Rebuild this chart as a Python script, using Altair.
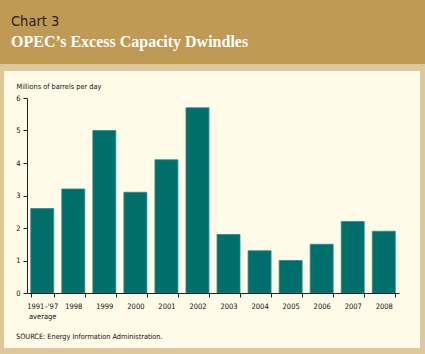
import altair as alt
import pandas as pd

categories = ["1991–'97|average", "1998", "1999", "2000", "2001", "2002",
              "2003", "2004", "2005", "2006", "2007", "2008"]
values = [2.6, 3.2, 5.0, 3.1, 4.1, 5.7, 1.8, 1.3, 1.0, 1.5, 2.2, 1.9]
y_ticks = [0, 1, 2, 3, 4, 5, 6]

df = pd.DataFrame({"cat": categories, "val": values})

W, H = 372, 195
L, T = 27, 98
narrow = "Liberation Sans Narrow, Arial Narrow, DejaVu Sans Condensed, sans-serif"

dummy = pd.DataFrame({"a": [0]})

header = alt.Chart(dummy).mark_rect(color="#BF9A55").encode(
    x=alt.value(-L), x2=alt.value(425 - L), y=alt.value(-T), y2=alt.value(64 - T))
panel = alt.Chart(dummy).mark_rect(color="#FFFBE9").encode(
    x=alt.value(4 - L), x2=alt.value(420 - L), y=alt.value(71 - T), y2=alt.value(348 - T))

t1 = alt.Chart(dummy).mark_text(text="Chart 3", font=narrow, fontSize=14.5, color="#2a2118",
                                 align="left", baseline="alphabetic").encode(
    x=alt.value(11 - L), y=alt.value(26 - T))
t2 = alt.Chart(dummy).mark_text(text="OPEC’s Excess Capacity Dwindles", font="Liberation Serif",
                                 fontWeight="bold", fontSize=16, color="white",
                                 align="left", baseline="alphabetic").encode(
    x=alt.value(11 - L), y=alt.value(47 - T))
src = alt.Chart(dummy).mark_text(text="SOURCE: Energy Information Administration.", font=narrow,
                                  fontSize=7.3, color="#111111",
                                  align="left", baseline="alphabetic").encode(
    x=alt.value(16 - L), y=alt.value(339 - T))

bars = alt.Chart(df).mark_bar(color="#006E6B", stroke="#2F8A86", strokeWidth=0.8).encode(
    x=alt.X("cat:N", sort=categories, title=None,
            scale=alt.Scale(paddingInner=0.26, paddingOuter=0.12),
            axis=alt.Axis(labelAngle=0, tickBand="extent", labelExpr="split(datum.label, '|')",
                          labelFont=narrow, labelFontSize=7.5, labelColor="#111111",
                          domainColor="#222222", tickColor="#222222", tickSize=4,
                          labelPadding=5, zindex=1, labelLineHeight=10)),
    y=alt.Y("val:Q", scale=alt.Scale(domain=[0, 6], nice=False),
            title="Millions of barrels per day",
            axis=alt.Axis(values=y_ticks, grid=False, labelFont=narrow, labelFontSize=7.5,
                          labelColor="#111111", domainColor="#222222", tickColor="#222222",
                          tickSize=4, labelPadding=3, zindex=1,
                          titleAngle=0, titleAlign="left", titleBaseline="alphabetic",
                          titleX=16 - L, titleY=88 - T, titleFont=narrow, titleFontSize=7.3,
                          titleFontWeight="normal", titleColor="#111111")),
)

chart = alt.layer(header, panel, t1, t2, src, bars).properties(
    width=W, height=H, background="#DEC79B",
    autosize=alt.AutoSizeParams(type="none"),
    padding={"left": L, "top": T, "right": 425 - L - W, "bottom": 354 - T - H},
).configure_view(stroke=None)

chart.save("out.html", embed_options={"renderer": "svg", "actions": False})
